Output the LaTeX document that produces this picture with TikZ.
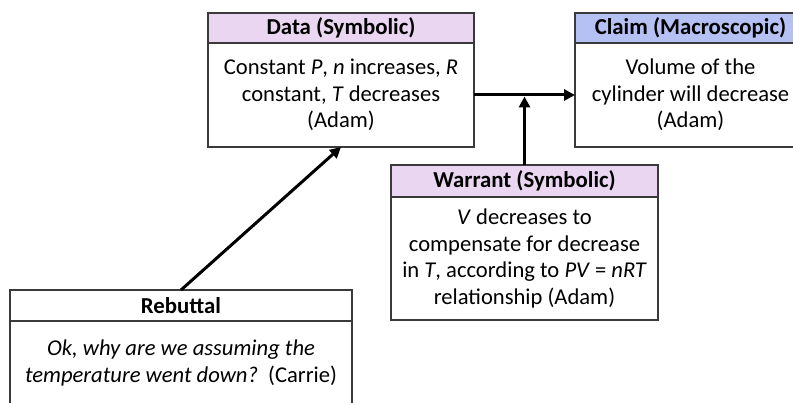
\documentclass[tikz,border=0pt]{standalone}
\usepackage{fontspec}
\setmainfont{Carlito}
\usetikzlibrary{positioning,arrows.meta}
\definecolor{symbolic}{HTML}{EAD6F1}
\definecolor{macro}{HTML}{B5C0F3}
\definecolor{boxline}{HTML}{3A3A3A}
\begin{document}
\begin{tikzpicture}[x = 1pt, y = 1pt, >={Triangle[length=11pt, width=11pt]}]
    \useasboundingbox (0,0) rectangle (793,-403);
    \begin{scope}[every node/.style={draw=boxline, line width=1.2pt, outer sep=0pt, inner sep=0pt, anchor=north west, minimum height=30pt, font=\fontsize{22.8}{26}\selectfont\bfseries}]
    \node[fill=symbolic, minimum width=266pt] (dataH) at (208,-13) {Data (Symbolic)};
    \node[fill=macro, minimum width=231pt] (claimH) at (575,-13) {Claim (Macroscopic)};
    \node[fill=symbolic, minimum width=267pt, minimum height=32pt] (warrantH) at (391,-165) {Warrant (Symbolic)};
    \node[fill=white, minimum width=342pt, minimum height=31pt] (rebuttalH) at (10,-290) {Rebuttal};
    \end{scope}
    \begin{scope}[node distance = 0pt, every node/.style={draw=boxline, line width=1.2pt, outer sep=0pt, inner sep=0pt, align=center, font=\fontsize{22.6}{26.7}\selectfont}]
    \node[below = of dataH, minimum width=266pt, minimum height=104pt] (data)
      {Constant \textit{P}, \textit{n} increases, \textit{R}\\constant, \textit{T} decreases\\(Adam)};
    \node[below = of claimH, minimum width=231pt, minimum height=104pt] (claim)
      {Volume of the\\cylinder will decrease\\(Adam)};
    \node[below = of warrantH, minimum width=267pt, minimum height=123pt] (warrant)
      {\textit{V} decreases to\\compensate for decrease\\in \textit{T}, according to \textit{PV} = \textit{nRT}\\relationship (Adam)};
    \node[below = of rebuttalH, minimum width=342pt, minimum height=84pt] (rebuttal)
      {\textit{Ok, why are we assuming the}\\\textit{temperature went down?}\ \ (Carrie)};
    \end{scope}
    \begin{scope}[->, line width = 3pt]
      \draw (data.east) -- (claim.west);
      \draw (warrantH.north) -- ([yshift=-1.5pt]warrantH.north |- data.east);
      \draw (rebuttalH.north) -- (data.south);
    \end{scope}
  \end{tikzpicture}
\end{document}
